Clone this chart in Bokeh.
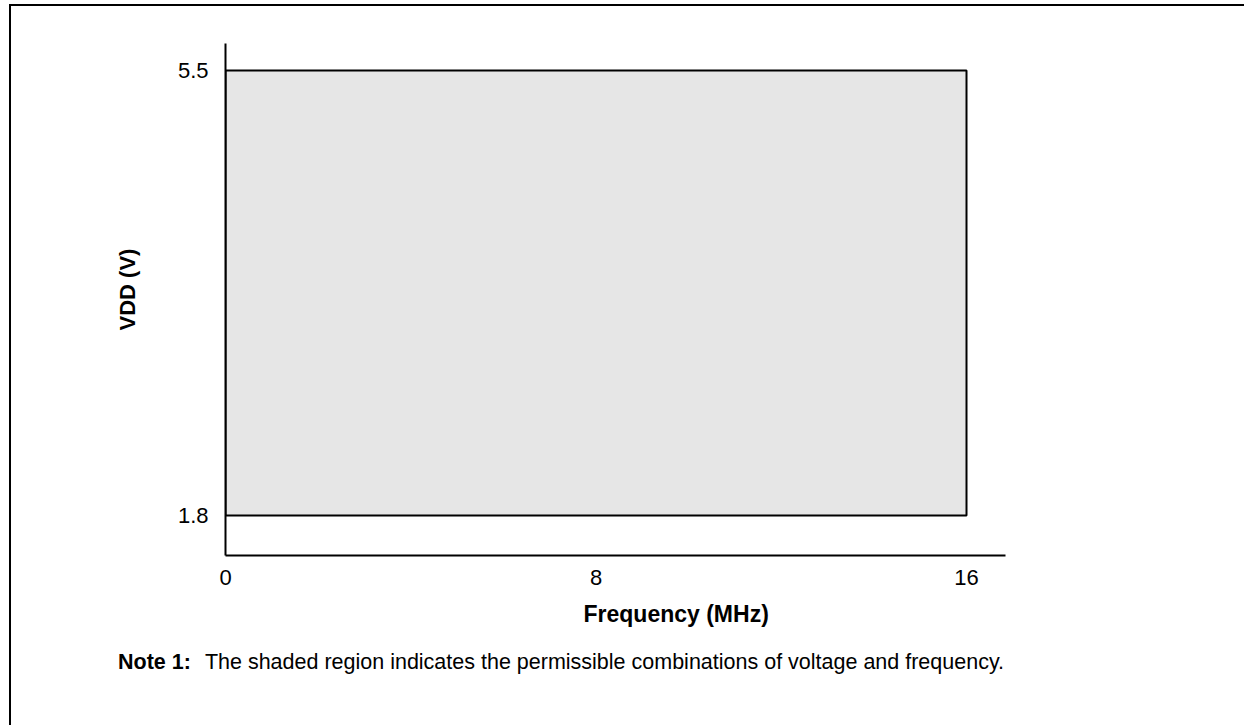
from bokeh.plotting import figure
from bokeh.models import FixedTicker, Range1d, ColumnDataSource, Div, Title
from bokeh.layouts import column
from bokeh.embed import file_html
from bokeh.resources import INLINE

# ---- data ----
freq_min = [0]
freq_max = [16]
vdd_min = [1.8]
vdd_max = [5.5]
x_ticks = [0, 8, 16]
y_ticks = [1.8, 5.5]
x_title = "Frequency (MHz)"
y_title = "VDD (V)"
note_head = "Note 1:"
note_body = "The shaded region indicates the permissible combinations of voltage and frequency."

W, H = 1232, 640
FONT = "Liberation Sans"

src = ColumnDataSource(dict(left=freq_min, right=freq_max, bottom=vdd_min, top=vdd_max))

p = figure(width=W, height=H, output_backend="svg", toolbar_location=None,
           x_range=Range1d(0, 16.842), y_range=Range1d(1.4674, 5.7245),
           min_border_left=214, min_border_right=238, min_border_top=37, min_border_bottom=91)
p.outline_line_color = None
p.grid.visible = False
p.background_fill_color = "white"
p.border_fill_color = "white"

p.quad(left="left", right="right", bottom="bottom", top="top", source=src,
       fill_color="#e6e6e6", line_color="black", line_width=2)

for ax in (p.xaxis[0], p.yaxis[0]):
    ax.axis_line_width = 2
    ax.axis_line_color = "black"
    ax.major_tick_line_color = None
    ax.minor_tick_line_color = None
    ax.major_label_text_font = FONT
    ax.major_label_text_font_size = "22px"
    ax.major_label_text_color = "black"

p.xaxis[0].ticker = FixedTicker(ticks=x_ticks)
p.yaxis[0].ticker = FixedTicker(ticks=y_ticks)
p.xaxis[0].major_label_standoff = 8
p.yaxis[0].major_label_standoff = 11

# axis titles, placed as in the original (x title right of centre, y title above centre)
p.add_layout(Title(text=x_title, align="left", offset=358, standoff=23,
                   text_font=FONT, text_font_style="bold", text_font_size="23px",
                   text_color="black"), "below")
p.add_layout(Title(text=y_title, align="left", offset=225, standoff=70,
                   text_font=FONT, text_font_style="bold", text_font_size="22px",
                   text_color="black"), "left")

note = Div(
    text=f'<span style="font-weight:bold">{note_head}</span>'
         f'<span style="margin-left:14px">{note_body}</span>',
    width=W, height=78,
    styles={"font-family": FONT, "font-size": "21.5px", "color": "black",
            "padding-left": "102px", "padding-top": "2px", "line-height": "18px",
            "box-sizing": "border-box", "white-space": "nowrap"},
)

layout = column(p, note, spacing=0,
                styles={"margin-left": "9px", "margin-top": "4px",
                        "border-top": "2px solid black", "border-left": "2px solid black",
                        "background-color": "white"})

open("out.html", "w").write(file_html(layout, INLINE))
